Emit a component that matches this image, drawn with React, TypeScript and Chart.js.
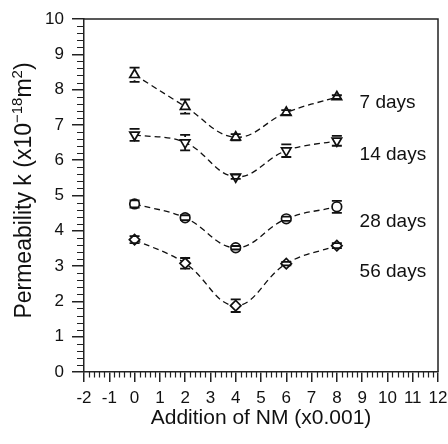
import React, { useEffect, useRef } from "react";
import { Chart, registerables } from "chart.js";

Chart.register(...registerables);

// ---- data ----
const xValues = [0, 2, 4, 6, 8];
const seriesNames = ["7 days", "14 days", "28 days", "56 days"];
const days7 = [8.42, 7.52, 6.65, 7.35, 7.79];
const err7 = [0.2, 0.2, 0.09, 0.07, 0.05];
const days14 = [6.72, 6.5, 5.53, 6.27, 6.55];
const err14 = [0.17, 0.22, 0.06, 0.18, 0.14];
const days28 = [4.76, 4.37, 3.52, 4.34, 4.68];
const err28 = [0.1, 0.07, 0.05, 0.06, 0.17];
const days56 = [3.75, 3.08, 1.88, 3.07, 3.58];
const err56 = [0.1, 0.15, 0.18, 0.05, 0.07];

const xMin = -2;
const xMax = 12;
const yMin = 0;
const yMax = 10;

// annotation anchors (in data units)
const labelX = 8.9;
const labelY = [7.62, 6.15, 4.25, 2.85];

const xTitle = "Addition of NM (x0.001)";

const FONT = "'Liberation Sans', Arial, Helvetica, sans-serif";
const INK = "#111";

const allValues = [days7, days14, days28, days56];
const allErrors = [err7, err14, err28, err56];
const styles: any[] = ["triangle", "triangle", "circle", "rectRot"];
const rotations = [0, 180, 0, 0];
const radii = [5.5, 5.5, 4.8, 5.2];

export default function App() {
  const ref = useRef<HTMLCanvasElement>(null);

  useEffect(() => {
    document.body.style.margin = "0";
    const canvas = ref.current!;

    const decorPlugin = {
      id: "decor",
      afterDatasetsDraw(chart: any) {
        const { ctx } = chart;
        const xs = chart.scales.x;
        const ys = chart.scales.y;
        ctx.save();
        ctx.strokeStyle = INK;
        ctx.lineWidth = 1.8;
        allValues.forEach((vals, i) => {
          const errs = allErrors[i];
          const r = radii[i];
          vals.forEach((v, j) => {
            const px = xs.getPixelForValue(xValues[j]);
            const pc = ys.getPixelForValue(v);
            const pt = ys.getPixelForValue(v + errs[j]);
            const pb = ys.getPixelForValue(v - errs[j]);
            ctx.beginPath();
            if (pt < pc - r) {
              ctx.moveTo(px, pt);
              ctx.lineTo(px, pc - r);
            }
            if (pb > pc + r) {
              ctx.moveTo(px, pc + r);
              ctx.lineTo(px, pb);
            }
            ctx.moveTo(px - 5, pt);
            ctx.lineTo(px + 5, pt);
            ctx.moveTo(px - 5, pb);
            ctx.lineTo(px + 5, pb);
            ctx.stroke();
          });
        });
        ctx.restore();
      },
      afterDraw(chart: any) {
        const { ctx, chartArea } = chart;
        const xs = chart.scales.x;
        const ys = chart.scales.y;
        const { left, right, top, bottom } = chartArea;
        ctx.save();
        ctx.strokeStyle = "#222";
        ctx.lineWidth = 1.5;
        // frame top + right
        ctx.beginPath();
        ctx.moveTo(left, top);
        ctx.lineTo(right, top);
        ctx.lineTo(right, bottom);
        ctx.stroke();
        // minor ticks
        ctx.lineWidth = 1.2;
        ctx.beginPath();
        for (let k = 0; k <= (xMax - xMin) * 5; k++) {
          if (k % 5 === 0) continue;
          const px = Math.round(xs.getPixelForValue(xMin + k * 0.2)) + 0.5;
          ctx.moveTo(px, bottom);
          ctx.lineTo(px, bottom + 5.5);
        }
        for (let k = 0; k <= (yMax - yMin) * 5; k++) {
          if (k % 5 === 0) continue;
          const py = Math.round(ys.getPixelForValue(yMin + k * 0.2)) + 0.5;
          ctx.moveTo(left - 7, py);
          ctx.lineTo(left, py);
        }
        ctx.stroke();

        // series labels
        ctx.fillStyle = INK;
        ctx.font = `19px ${FONT}`;
        ctx.textAlign = "left";
        ctx.textBaseline = "middle";
        seriesNames.forEach((name, i) => {
          ctx.fillText(name, xs.getPixelForValue(labelX), ys.getPixelForValue(labelY[i]));
        });

        // y title with superscripts
        const parts: [string, boolean][] = [
          ["Permeability k (x10", false],
          ["\u221218", true],
          ["m", false],
          ["2", true],
          [")", false],
        ];
        const big = `23px ${FONT}`;
        const small = `15px ${FONT}`;
        let total = 0;
        const widths = parts.map(([t, sup]) => {
          ctx.font = sup ? small : big;
          const w = ctx.measureText(t).width;
          total += w;
          return w;
        });
        ctx.translate(25, (top + bottom) / 2 - 5);
        ctx.rotate(-Math.PI / 2);
        ctx.textBaseline = "middle";
        let cx = -total / 2;
        parts.forEach(([t, sup], i) => {
          ctx.font = sup ? small : big;
          ctx.fillText(t, cx, sup ? -7 : 0);
          cx += widths[i];
        });
        ctx.restore();
      },
    };

    const datasets = allValues.map((vals, i) => ({
      label: seriesNames[i],
      data: vals.map((v, j) => ({ x: xValues[j], y: v })),
      borderColor: INK,
      borderWidth: 1.3,
      borderDash: [6, 4],
      tension: 0.4,
      fill: false,
      pointStyle: styles[i],
      rotation: rotations[i],
      pointRadius: radii[i],
      pointBorderWidth: 1.7,
      pointBorderColor: INK,
      pointBackgroundColor: "#fff",
    }));

    const chart = new Chart(canvas, {
      type: "line",
      data: { datasets },
      options: {
        responsive: false,
        animation: false,
        devicePixelRatio: 1,
        layout: { padding: { top: 19, right: 10, left: 0, bottom: 0 } },
        plugins: {
          legend: { display: false },
          tooltip: { enabled: false },
        },
        font: { family: FONT },
        scales: {
          x: {
            type: "linear",
            min: xMin,
            max: xMax,
            ticks: {
              stepSize: 1,
              autoSkip: false,
              maxRotation: 0,
              padding: 6,
              color: INK,
              font: { family: FONT, size: 17 },
            },
            grid: {
              display: true,
              drawOnChartArea: false,
              drawTicks: true,
              tickLength: 10,
              color: "#222",
              lineWidth: 1.5,
            },
            border: { display: true, color: "#222", width: 1.5 },
            title: {
              display: true,
              text: xTitle,
              color: INK,
              font: { family: FONT, size: 21 },
              padding: { top: 0, bottom: 13 },
            },
            afterFit: (s: any) => {
              s.height = 72;
              s.paddingLeft = 0;
              s.paddingRight = 0;
            },
          },
          y: {
            type: "linear",
            min: yMin,
            max: yMax,
            ticks: {
              stepSize: 1,
              autoSkip: false,
              padding: 8,
              color: INK,
              font: { family: FONT, size: 17 },
            },
            grid: {
              display: true,
              drawOnChartArea: false,
              drawTicks: true,
              tickLength: 12,
              color: "#222",
              lineWidth: 1.5,
            },
            border: { display: true, color: "#222", width: 1.5 },
            afterFit: (s: any) => {
              s.width = 84;
              s.paddingTop = 0;
              s.paddingBottom = 0;
            },
          },
        },
      } as any,
      plugins: [decorPlugin],
    });

    return () => chart.destroy();
  }, []);

  return <canvas ref={ref} width={448} height={444} style={{ display: "block" }} />;
}
